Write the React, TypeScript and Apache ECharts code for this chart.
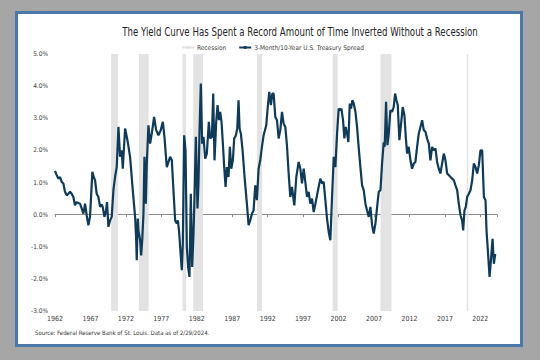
import React, { useEffect, useRef } from "react";
import * as echarts from "echarts";

const TITLE = "The Yield Curve Has Spent a Record Amount of Time Inverted Without a Recession";
const SOURCE = "Source: Federal Reserve Bank of St. Louis. Data as of 2/29/2024.";
const SERIES_NAME = "3-Month/10-Year U.S. Treasury Spread";
const RECESSION_NAME = "Recession";
const START_YEAR = 1962;
const yTicks = [-3, -2, -1, 0, 1, 2, 3, 4, 5];

// decimal years of the plotted observations
const dates = [
  1962.0, 1962.24, 1962.47, 1962.71, 1962.94, 1963.18, 1963.41, 1963.65, 1963.88, 1964.12,
  1964.35, 1964.59, 1964.82, 1965.06, 1965.3, 1965.53, 1965.77, 1966.0, 1966.24, 1966.47,
  1966.71, 1966.94, 1967.27, 1967.46, 1967.65, 1967.88, 1968.12, 1968.36, 1968.59, 1968.73,
  1968.97, 1969.2, 1969.34, 1969.53, 1969.77, 1970.0, 1970.24, 1970.47, 1970.71, 1970.95,
  1971.18, 1971.42, 1971.56, 1971.89, 1972.22, 1972.59, 1972.97, 1973.3, 1973.44, 1973.53,
  1973.68, 1973.77, 1974.01, 1974.15, 1974.29, 1974.48, 1974.62, 1974.81, 1974.95, 1975.18,
  1975.42, 1975.65, 1975.98, 1976.27, 1976.6, 1976.92, 1977.21, 1977.45, 1977.6, 1977.77,
  1978.24, 1978.48, 1978.71, 1978.95, 1979.18, 1979.33, 1979.51, 1979.75, 1979.89, 1980.03,
  1980.22, 1980.41, 1980.6, 1980.78, 1980.97, 1981.16, 1981.35, 1981.54, 1981.68, 1981.87,
  1982.1, 1982.24, 1982.39, 1982.57, 1982.76, 1982.95, 1983.19, 1983.42, 1983.7, 1983.89,
  1984.13, 1984.32, 1984.5, 1984.74, 1984.93, 1985.12, 1985.3, 1985.49, 1985.68, 1985.87,
  1986.06, 1986.25, 1986.48, 1986.67, 1986.86, 1987.09, 1987.28, 1987.52, 1987.71, 1987.89,
  1988.04, 1988.22, 1988.46, 1988.74, 1989.07, 1989.31, 1989.54, 1989.78, 1990.01, 1990.25,
  1990.48, 1990.72, 1990.95, 1991.19, 1991.43, 1991.8, 1991.99, 1992.23, 1992.46, 1992.65,
  1992.84, 1993.08, 1993.31, 1993.55, 1993.78, 1994.02, 1994.25, 1994.49, 1994.72, 1994.96,
  1995.19, 1995.43, 1995.76, 1996.04, 1996.37, 1996.61, 1996.84, 1997.08, 1997.31, 1997.55,
  1997.78, 1998.02, 1998.26, 1998.49, 1998.73, 1999.1, 1999.43, 1999.67, 1999.9, 2000.14,
  2000.37, 2000.61, 2000.84, 2001.08, 2001.32, 2001.55, 2001.79, 2002.02, 2002.26, 2002.4,
  2002.63, 2002.82, 2003.01, 2003.2, 2003.39, 2003.58, 2003.76, 2003.95, 2004.14, 2004.38,
  2004.61, 2004.85, 2005.08, 2005.32, 2005.55, 2005.79, 2006.02, 2006.26, 2006.49, 2006.73,
  2006.96, 2007.2, 2007.44, 2007.67, 2007.91, 2008.14, 2008.37, 2008.51, 2008.7, 2008.89,
  2009.08, 2009.31, 2009.55, 2009.78, 2009.97, 2010.16, 2010.35, 2010.58, 2010.82, 2011.05,
  2011.29, 2011.48, 2011.67, 2011.9, 2012.14, 2012.37, 2012.61, 2012.84, 2013.08, 2013.31,
  2013.55, 2013.79, 2014.02, 2014.26, 2014.49, 2014.73, 2014.96, 2015.2, 2015.43, 2015.67,
  2015.9, 2016.14, 2016.37, 2016.61, 2016.85, 2017.08, 2017.32, 2017.55, 2017.79, 2018.02,
  2018.26, 2018.49, 2018.73, 2018.96, 2019.2, 2019.43, 2019.58, 2019.76, 2019.95, 2020.14,
  2020.38, 2020.61, 2020.85, 2021.08, 2021.32, 2021.55, 2021.79, 2022.02, 2022.26, 2022.5,
  2022.73, 2022.87, 2023.06, 2023.3, 2023.53, 2023.72, 2023.91, 2024.1,
];

// 10-year minus 3-month Treasury yield, percentage points
const spread = [
  1.36, 1.23, 1.12, 1.17, 1.02, 0.97, 0.71, 0.6, 0.65, 0.71,
  0.65, 0.55, 0.29, 0.39, 0.36, 0.34, 0.19, 0.03, 0.34, -0.02,
  -0.33, -0.07, 1.33, 1.17, 1.07, 0.65, 0.55, 0.24, 0.32, 0.24,
  -0.07, 0.13, 0.39, -0.38, -0.18, -0.07, 0.76, 1.17, 1.48, 2.73,
  1.8, 2.0, 1.43, 2.68, 2.32, 1.8, 0.76, -0.07, -0.7, -1.42,
  -0.12, -0.49, -0.8, -1.27, -0.85, 0.03, 1.8, 0.34, 1.59, 2.78,
  2.21, 2.52, 3.04, 2.63, 2.47, 2.63, 2.89, 2.4, 1.95, 1.48,
  1.8, 1.69, 0.76, -0.18, -0.28, -0.18, -0.54, -1.32, -1.73, -0.9,
  2.47, 2.0, -1.01, -1.63, -1.94, 0.65, -1.63, -0.59, 0.55, 2.42,
  0.19, 0.97, 2.63, 4.08, 2.21, 2.42, 1.74, 1.9, 2.89, 2.37,
  2.42, 3.77, 1.69, 2.89, 3.41, 2.94, 3.2, 2.89, 2.21, 1.48,
  0.86, 1.48, 1.17, 2.11, 1.43, 1.69, 2.37, 2.47, 2.68, 3.56,
  2.68, 2.52, 2.0, 1.17, 0.34, -0.33, -0.18, 0.03, 0.13, 0.91,
  0.45, 1.43, 1.69, 2.11, 2.47, 2.78, 3.3, 3.82, 3.41, 3.77,
  3.77, 3.04, 2.94, 2.37, 2.63, 3.2, 2.83, 2.73, 2.16, 1.28,
  0.55, 0.86, 0.29, 1.17, 1.64, 1.43, 0.97, 1.43, 1.02, 0.55,
  0.71, 0.34, 0.5, 0.08, 0.34, 0.76, 1.12, 0.97, 1.02, 0.45,
  -0.12, -0.54, -0.8, 0.55, 1.8, 1.48, 2.52, 3.3, 3.25, 3.3,
  2.94, 2.37, 2.73, 2.52, 2.26, 3.46, 3.3, 3.56, 3.46, 3.2,
  2.73, 2.06, 1.48, 0.91, 0.76, 0.34, 0.13, -0.07, 0.24, -0.33,
  -0.59, -0.28, 0.24, 0.71, 0.76, 1.6, 2.25, 2.11, 3.51, 2.16,
  2.52, 3.25, 3.2, 3.35, 3.77, 3.56, 3.41, 2.32, 2.83, 3.35,
  3.09, 2.42, 1.9, 2.11, 1.69, 1.43, 1.59, 1.64, 2.11, 2.52,
  2.73, 2.94, 2.63, 2.58, 2.37, 2.21, 1.69, 2.11, 2.0, 2.06,
  1.64, 1.43, 1.28, 1.59, 1.9, 1.69, 1.28, 1.23, 1.17, 1.12,
  1.07, 0.91, 0.76, 0.34, -0.02, -0.18, -0.49, 0.13, 0.24, 0.55,
  0.65, 0.76, 1.07, 1.59, 1.48, 1.28, 1.54, 2.0, 2.0, 0.55,
  0.45, -0.49, -1.11, -1.94, -1.32, -0.75, -1.53, -1.22,
];

// NBER recessions as [start, end] decimal years
const recessionStarts = [1969.92, 1973.84, 1980.0, 1981.5, 1990.5, 2001.17, 2007.92, 2020.08];
const recessionEnds = [1970.88, 1975.21, 1980.5, 1982.88, 1991.21, 2001.88, 2009.46, 2020.3];

const AXIS_END = 62.35; // years after 1962 covered by the horizontal axis

const FONT = "'DejaVu Sans Condensed', 'Liberation Sans Narrow', 'Roboto', sans-serif";

export default function App() {
  const ref = useRef<HTMLDivElement>(null);

  useEffect(() => {
    if (!ref.current) return;
    const chart = echarts.init(ref.current, undefined, { renderer: "svg" });

    const lineData = dates.map((d, i) => [d - START_YEAR, spread[i]]);
    const bands = recessionStarts.map((s, i) => [
      { xAxis: s - START_YEAR },
      { xAxis: recessionEnds[i] - START_YEAR },
    ]);

    const yearLabel = (v: number) => {
      const r = Math.round(v);
      return Math.abs(v - r) < 1e-6 && r % 5 === 0 ? String(START_YEAR + r) : "";
    };

    chart.setOption({
      animation: false,
      backgroundColor: "#a6a6a6",
      textStyle: { fontFamily: FONT },
      graphic: [
        {
          type: "rect",
          z: -10,
          silent: true,
          shape: { x: 16.5, y: 12.5, width: 505, height: 333 },
          style: { fill: "#ffffff", stroke: "#4a78aa", lineWidth: 3 },
        },
        {
          type: "text",
          x: 300,
          y: 32,
          scaleX: 0.8,
          silent: true,
          style: {
            text: TITLE,
            fontSize: 12,
            fill: "#262626",
            fontFamily: FONT,
            align: "center",
            verticalAlign: "middle",
          },
        },
        {
          type: "text",
          x: 35,
          y: 332,
          silent: true,
          style: {
            text: SOURCE,
            fontSize: 6,
            fill: "#333333",
            fontFamily: FONT,
            align: "left",
            verticalAlign: "middle",
          },
        },
      ],
      legend: {
        data: [RECESSION_NAME, SERIES_NAME],
        left: 181,
        top: 44,
        padding: 0,
        itemWidth: 12,
        itemHeight: 4,
        itemGap: 12,
        textStyle: { fontSize: 6.5, color: "#404040", fontFamily: FONT, padding: [0, 0, 0, -2] },
      },
      grid: { left: 55, right: 43, top: 54, bottom: 49, containLabel: false },
      xAxis: [
        {
          type: "value",
          min: 0,
          max: AXIS_END,
          interval: 5,
          position: "bottom",
          axisLine: { show: false, onZero: false },
          axisTick: { show: false },
          splitLine: { show: false },
          axisLabel: {
            formatter: yearLabel,
            fontSize: 7,
            color: "#404040",
            margin: 4,
            showMaxLabel: false,
          },
        },
        {
          type: "value",
          min: 0,
          max: AXIS_END,
          interval: 5,
          position: "bottom",
          axisLine: { show: true, onZero: true, onZeroAxisIndex: 0, lineStyle: { color: "#8c8c8c", width: 1 } },
          axisTick: { show: true, length: 2.5, lineStyle: { color: "#8c8c8c", width: 1 } },
          axisLabel: { show: false },
          splitLine: { show: false },
        },
      ],
      yAxis: {
        type: "value",
        min: yTicks[0],
        max: yTicks[yTicks.length - 1],
        interval: 1,
        axisLine: { show: false },
        axisTick: { show: false },
        splitLine: { show: false },
        axisLabel: {
          formatter: (v: number) => v.toFixed(1) + "%",
          fontSize: 6.5,
          color: "#404040",
          margin: 7,
        },
      },
      series: [
        {
          name: RECESSION_NAME,
          type: "line",
          data: [],
          symbol: "none",
          color: "#e0e0e0",
          lineStyle: { width: 4, color: "#e0e0e0" },
          markArea: {
            silent: true,
            itemStyle: { color: "#e3e3e3" },
            data: bands,
          },
        },
        {
          name: SERIES_NAME,
          type: "line",
          data: lineData,
          symbol: "none",
          showSymbol: false,
          color: "#0f3a58",
          lineStyle: { width: 2.2, color: "#0f3a58" },
          z: 5,
        },
      ],
    });

    return () => chart.dispose();
  }, []);

  return (
    <div
      ref={ref}
      style={{ position: "fixed", left: 0, top: 0, width: 540, height: 360 }}
    />
  );
}
